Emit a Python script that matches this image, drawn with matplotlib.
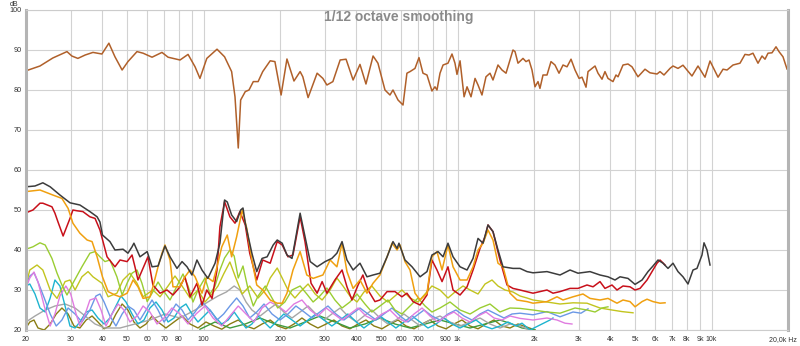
import matplotlib
matplotlib.use('Agg')
import matplotlib.pyplot as plt
import matplotlib.transforms as mtransforms
import numpy as np
from matplotlib.ticker import NullLocator

plt.rcParams['font.family'] = ['Liberation Sans', 'DejaVu Sans']

# (frequency in Hz, level in dB)
total_response = [
    (20, 84.8), (22.7, 86.0), (25.5, 88.0), (29.0, 89.6), (30.3, 88.5), (32.0, 87.9), (34.2, 88.75),
    (36.7, 89.4), (39.8, 89.0), (42.4, 91.7), (44.8, 88.3), (47.8, 85.0), (50.4, 87.1), (54.7, 89.6),
    (57.8, 89.2), (62.7, 88.2), (68.6, 89.4), (72.5, 88.2), (80.8, 87.5), (86.9, 88.9), (92.6, 85.8),
    (96.8, 82.9), (103, 87.9), (113, 90.2), (121, 88.3), (129, 84.6), (133, 78.3), (137, 65.5),
    (140, 77.5), (146, 79.6), (151, 80.0), (157, 82.1), (164, 82.1), (171, 84.6), (183, 87.3),
    (191, 87.1), (202, 78.75), (213, 87.75), (227, 82.25), (240, 84.6), (246, 83.3), (258, 78.1),
    (280, 84.2), (295, 82.9), (306, 81.25), (323, 82.1), (345, 87.5), (364, 87.7), (388, 82.5),
    (413, 86.4), (436, 81.5), (465, 88.5), (486, 86.7), (518, 80.0), (542, 78.75), (557, 80.0),
    (583, 77.5), (610, 76.25), (632, 84.2), (650, 84.6), (680, 85.4), (705, 88.1), (731, 84.2),
    (758, 83.75), (793, 79.75), (815, 80.8), (830, 80.0), (853, 84.2), (877, 86.25), (917, 86.7),
    (951, 89.0), (977, 86.7), (995, 83.9), (1023, 87.3), (1061, 78.3), (1090, 80.8), (1130, 78.3),
    (1172, 82.9), (1204, 81.25), (1248, 78.75), (1294, 83.3), (1342, 84.2), (1379, 82.5),
    (1443, 86.25), (1496, 85.0), (1552, 84.2), (1653, 90.0), (1684, 89.6), (1730, 86.7),
    (1810, 87.9), (1860, 87.1), (1911, 87.5), (1964, 85.0), (2018, 80.8), (2074, 82.1),
    (2111, 80.4), (2170, 83.75), (2250, 83.75), (2333, 87.1), (2419, 86.25), (2509, 84.2),
    (2602, 86.25), (2698, 85.8), (2798, 87.7), (2901, 85.0), (3009, 82.9), (3091, 83.2),
    (3205, 80.7), (3264, 84.6), (3385, 85.4), (3478, 86.0), (3573, 84.2), (3705, 82.7),
    (3806, 84.6), (3911, 82.9), (4093, 82.1), (4205, 83.75), (4284, 83.3), (4482, 86.25),
    (4689, 86.5), (4862, 85.8), (5133, 83.3), (5470, 85.2), (5724, 84.3), (6101, 84.0),
    (6268, 84.6), (6498, 83.75), (6862, 85.4), (7052, 86.0), (7378, 85.4), (7720, 86.2),
    (8375, 83.5), (8845, 86.0), (9424, 83.2), (9862, 87.25), (10606, 83.2), (11098, 85.2),
    (11508, 85.0), (12152, 86.25), (12942, 86.7), (13542, 88.9), (14043, 88.75), (14561, 89.2),
    (15238, 86.7), (15802, 88.5), (16237, 87.7), (16686, 89.2), (17300, 89.3), (17940, 90.8),
    (18432, 89.6), (19114, 88.3), (19820, 85.25),
]

sum_response = [
    (20, 55.8), (21.7, 56), (23.3, 56.8), (24.9, 55.8), (27.2, 53.75), (29.8, 51.8), (32.6, 51.25),
    (35.7, 49.6), (38.1, 48.3), (39.1, 47), (40, 43.75), (42.8, 42.1), (44.8, 40), (48.2, 40.2),
    (50.4, 39.2), (52.3, 40.8), (53.2, 41.7), (56.2, 38.3), (60, 39.6), (62.7, 35.8), (66.2, 36),
    (70.5, 41), (73.8, 38.3), (78.6, 35.4), (82.3, 37.1), (86.1, 35.8), (90, 33.75), (94.2, 37.5),
    (98.6, 35), (104, 32.9), (111, 36.7), (116, 41.7), (121, 52.5), (124, 52), (129, 48.75),
    (135, 47.1), (140, 50), (143, 50.5), (146, 46.7), (155, 39.2), (162, 34.6), (170, 37.9),
    (178, 38.3), (188, 41.25), (195, 42.5), (204, 41.7), (213, 38.75), (223, 37.9), (231, 43.3),
    (240, 49.2), (251, 43.3), (263, 37.1), (280, 35.8), (301, 37.1), (320, 37.9), (335, 39.2),
    (351, 42.1), (367, 37.5), (388, 35), (413, 36.7), (440, 33.3), (465, 33.75), (495, 34.2),
    (528, 38.3), (557, 42.1), (578, 40.4), (588, 41.7), (621, 37.5), (662, 35.8), (712, 33.3),
    (758, 34.6), (793, 38.75), (838, 39.6), (877, 38.3), (917, 41.7), (960, 38.3), (1023, 35.8),
    (1090, 35), (1151, 37.9), (1204, 42.9), (1260, 41.7), (1318, 46.25), (1379, 44.6), (1443, 40),
    (1510, 35.8), (1653, 35.4), (1762, 35.4), (1877, 34.6), (1982, 34.3), (2250, 34.6),
    (2532, 33.75), (2772, 35), (2980, 34.2), (3323, 34.6), (3638, 33.75), (3911, 33.3),
    (4168, 32.5), (4362, 33.3), (4689, 32.9), (4998, 31.4), (5326, 32.5), (5622, 34.6),
    (5882, 36), (6156, 37.5), (6440, 36.7), (6740, 35.4), (7052, 36.7), (7378, 34.6), (7720, 33.3),
    (8078, 31.5), (8454, 35), (8764, 35.4), (9172, 38.75), (9340, 41.8), (9598, 40), (9862, 36.25),
]

red_response = [
    (20, 49.3), (21.3, 50), (22.7, 51.7), (23.3, 51.7), (25.3, 50.8), (26, 49.2), (26.7, 47.1),
    (28, 43.5), (29.8, 47.9), (30.6, 50), (31.8, 49.8), (33.5, 49.6), (35.7, 48.3), (37.4, 47.9),
    (39.1, 45), (41.7, 38.3), (44.8, 35.8), (46.9, 37.5), (50, 37.1), (52.3, 38.75), (53.7, 35.8),
    (55.2, 32.5), (60.4, 38.3), (63.2, 31.25), (67.4, 29.2), (71.8, 30), (75.8, 28.75), (80.8, 30.8),
    (84.5, 33.3), (88.5, 28.3), (94.2, 31.7), (98.6, 26.25), (103, 30), (108, 27.9), (113, 35),
    (116, 45.8), (121, 52.1), (127, 48.3), (133, 46.7), (139, 49.6), (146, 46.25), (152, 39.2),
    (162, 32.5), (171, 37.5), (183, 36.7), (195, 42.1), (204, 41.25), (215, 38.3), (225, 38.75),
    (240, 48.3), (251, 42), (265, 31.7), (280, 29.2), (293, 32.1), (306, 29.2), (329, 32.5),
    (351, 35), (367, 30.8), (384, 27.5), (406, 31.25), (424, 33.75), (444, 30), (473, 27.1),
    (495, 27.5), (528, 29.6), (567, 29.6), (604, 28.3), (632, 29.2), (668, 27.1), (712, 26.25),
    (758, 28.75), (793, 37.5), (830, 35), (869, 32.1), (917, 35.8), (960, 30), (1023, 28.75),
    (1090, 30.8), (1151, 35), (1226, 40.4), (1283, 43.3), (1318, 46.25), (1379, 44.6),
    (1469, 37.5), (1566, 31.25), (1653, 30.4), (1762, 30), (1982, 29.2), (2111, 29.6), (2250, 30),
    (2376, 29.2), (2532, 29.6), (2772, 30.4), (2980, 30.4), (3234, 31.25), (3416, 30.8),
    (3638, 32.1), (3806, 30.4), (4056, 31.25), (4244, 30), (4482, 31), (4775, 30.8), (4998, 30),
    (5230, 30.4), (5572, 32.5), (5830, 34.6), (6101, 36.7), (6268, 37.5), (6560, 36.25),
]

orange_response = [
    (20, 54.6), (22.7, 55), (25.5, 53.75), (27.7, 52.9), (29.3, 50.4), (30.6, 46.7), (32.6, 44.2),
    (34.8, 42.5), (36.4, 42.1), (38.1, 38.3), (40, 33.3), (42.1, 29.6), (44.8, 28.75), (46.9, 28.3),
    (50, 29.2), (52.8, 32.5), (55.2, 30.8), (57.8, 27.9), (61.5, 28.3), (63.2, 30.8), (66.2, 35.8),
    (68.6, 39.2), (70.5, 41.25), (73.8, 37.5), (75.8, 30.8), (80.8, 30.8), (84.5, 33.3), (88.5, 35),
    (92.6, 33.3), (98.6, 29.2), (103, 33.3), (109, 32.1), (113, 35.8), (118, 40.8), (124, 43.75),
    (129, 38.3), (135, 43.3), (142, 50), (148, 45.4), (155, 37.5), (162, 31.25), (171, 30),
    (183, 27.5), (195, 26.7), (204, 26.7), (213, 29.2), (225, 35), (240, 39.6), (255, 33.75),
    (270, 32.9), (295, 33.75), (315, 37.5), (335, 35.8), (351, 41.7), (367, 34.6), (388, 30.4),
    (413, 32.5), (440, 29.2), (465, 31.7), (495, 33.75), (528, 38.3), (552, 41.7), (578, 40),
    (594, 41.25), (621, 37.1), (650, 35), (680, 29.2), (712, 27.5), (758, 29.2), (793, 38.3),
    (830, 39.6), (869, 35), (917, 41.25), (960, 35.8), (1023, 32.5), (1090, 32.5), (1151, 35.8),
    (1204, 40), (1260, 41.7), (1318, 45), (1379, 42.5), (1443, 36.7), (1510, 35.8), (1609, 29.2),
    (1715, 27.5), (1877, 27.1), (1982, 26.7), (2250, 27.1), (2464, 28.3), (2602, 27.5),
    (2849, 28.3), (3118, 29), (3323, 27.9), (3638, 27.5), (3911, 27.9), (4244, 26.7), (4482, 27.5),
    (4775, 27.1), (4998, 25.8), (5326, 27.1), (5572, 27.7), (5882, 27.1), (6268, 26.7), (6560, 26.8),
]

lime_response = [
    (20, 40.2), (21.3, 40.8), (22.7, 41.8), (23.8, 41.25), (25.3, 37.9), (26.5, 34.2), (27.7, 31.25),
    (29, 28.75), (30.6, 31.7), (33.2, 35.8), (35.7, 39.2), (37.4, 39.6), (39.1, 38.3), (40.9, 37.1),
    (42.8, 37.5), (45.6, 33.3), (47.8, 28.75), (50, 31.7), (52.3, 34.2), (54.7, 35), (57.2, 31.7),
    (60, 27.1), (62.7, 29.2), (66.2, 32), (69.2, 30), (73.8, 27.5), (78.6, 31), (83, 34), (86.9, 31),
    (90.9, 27), (95.1, 30), (101.3, 33), (106, 29), (111, 31), (116, 35), (121, 38), (127, 40),
    (132, 38.5), (137, 33), (143, 36), (150, 30), (157, 26), (164, 28.5), (175, 31), (186, 28),
    (196, 25.5), (209, 27), (223, 30), (240, 31), (255, 29), (270, 27), (287, 28.5), (306, 30.5),
    (329, 27.5), (351, 25.5), (377, 27), (402, 29), (432, 26.5), (460, 24.5), (495, 26),
    (532, 27.5), (567, 25), (604, 24), (650, 26), (699, 28), (745, 26), (793, 24.5), (853, 25.5),
    (934, 27), (1023, 25), (1120, 24), (1226, 25.5), (1342, 26.5), (1469, 24.5), (1609, 25.5),
    (1762, 25.4), (1982, 25), (2250, 24.5), (2532, 24.2), (2901, 25.5), (3234, 25), (3478, 24.5),
    (3705, 25.5), (3911, 25.8),
]

olive_yellow_response = [
    (20, 31.25), (20.7, 35), (22.1, 36.25), (23.3, 35), (24.9, 30), (26.5, 27.9), (28.5, 32.1),
    (29.8, 32.5), (31.2, 30), (33.2, 33.3), (35.1, 34.6), (36.7, 33.3), (39.8, 31.7), (42.1, 28.3),
    (45.6, 29.2), (48.2, 32.5), (51.3, 34.2), (54.7, 31.7), (57.8, 28.3), (63.2, 30), (67.4, 28.3),
    (72.5, 31), (77.2, 33.5), (82.3, 31), (88.5, 28), (95.1, 30), (101.3, 27), (108, 29), (114, 31),
    (120, 34), (127, 37), (134, 33), (142, 29), (152, 31), (164, 28), (175, 30), (183, 33),
    (195, 35.5), (204, 33), (215, 30), (229, 28), (240, 29.5), (258, 31.5), (275, 29), (293, 27.5),
    (315, 30), (335, 33), (354, 31), (377, 28.5), (402, 27), (428, 29.5), (460, 31), (495, 28.5),
    (532, 27), (567, 28.5), (604, 30), (650, 28), (699, 27), (745, 29), (793, 31), (853, 30),
    (917, 28), (977, 29.5), (1051, 31), (1120, 30), (1204, 29), (1283, 31.5), (1367, 32.5),
    (1443, 31), (1538, 30), (1653, 29.5), (1762, 28.5), (1877, 28), (1982, 27.5), (2250, 27),
    (2532, 26.5), (2849, 26.8), (3234, 26.7), (3638, 25.5), (4056, 25), (4442, 24.6), (4908, 24.3),
]

pink_response = [
    (20, 30.5), (20.7, 33), (21.5, 34.5), (22.3, 32), (23.6, 26), (24.9, 21), (26, 24), (27.2, 28.5),
    (28.7, 31), (30, 29), (31.5, 24), (32.6, 21), (34.2, 24), (35.7, 27.5), (37.7, 28), (39.5, 25),
    (41.3, 21), (43.6, 24), (46.1, 26.5), (48.6, 25), (51.3, 22), (54.7, 23.5), (57.8, 26),
    (61.5, 24.5), (65.6, 21.5), (69.9, 23), (75.1, 25.5), (80.8, 24), (86.9, 21.5), (93.4, 24),
    (101.3, 26), (109, 23), (118, 21), (127, 23.5), (137, 26), (147, 24), (158, 22), (170, 25.5),
    (183, 27), (196, 26), (211, 24.5), (227, 26.5), (244, 27.5), (263, 25), (282, 23.5),
    (304, 25.5), (326, 24), (351, 22.5), (377, 24), (406, 25.5), (436, 23.5), (469, 22.5),
    (504, 24), (542, 25), (583, 23), (627, 22), (674, 24), (725, 25.5), (779, 23.5), (838, 22),
    (901, 23.5), (968, 24.5), (1041, 23), (1120, 22), (1204, 23.5), (1294, 24.5), (1392, 23),
    (1496, 22.5), (1609, 23.5), (1762, 22.9), (1982, 22.5), (2250, 23), (2464, 22.5),
    (2649, 21.7), (2822, 21.5),
]

blue_response = [
    (20, 31.5), (20.7, 33.5), (21.5, 34.3), (22.3, 32), (23.6, 28), (24.9, 24), (26.3, 21),
    (27.7, 22.5), (29.3, 25.5), (31.2, 24), (33.2, 22), (35.7, 25), (37.7, 28.5), (39.1, 29),
    (40.6, 27), (42.8, 23.5), (45.2, 21), (47.8, 24), (50.4, 26), (53.2, 25), (56.2, 22.5),
    (59.4, 25), (62.7, 27.5), (66.2, 25), (69.9, 22), (73.8, 24), (77.9, 26.5), (82.3, 25),
    (86.9, 22.5), (92.6, 24.5), (98.6, 27), (106, 25), (113, 22.5), (120, 24), (127, 26), (135, 28),
    (143, 26), (152, 23), (162, 24.5), (173, 26.5), (186, 24), (200, 22.5), (215, 24), (231, 26),
    (249, 24.5), (267, 23), (287, 24.5), (309, 26), (332, 24), (357, 22.5), (384, 24), (413, 25.5),
    (444, 24), (478, 22.5), (513, 24), (552, 25.5), (594, 23.5), (638, 22), (686, 23.5), (738, 25),
    (793, 23.5), (853, 22.5), (917, 24), (986, 25), (1061, 23.5), (1140, 22.5), (1226, 24),
    (1318, 25), (1417, 24), (1524, 23), (1638, 24), (1762, 24.2), (1982, 23.8), (2250, 24.6),
    (2532, 23.3), (2849, 24.5), (3062, 24.2), (3264, 25.3),
]

cyan_response = [
    (20, 31), (20.7, 31.5), (21.7, 29), (22.7, 25.5), (23.8, 24.5), (24.9, 28), (26, 32.5),
    (27.2, 31), (28.5, 26), (29.8, 21), (31.2, 20.5), (32.6, 22), (34.5, 24.5), (36.4, 25),
    (38.4, 23), (40.6, 21.5), (42.8, 23), (45.2, 26), (47.3, 28.5), (49.5, 27), (52.3, 24),
    (55.2, 21.5), (58.3, 22.5), (61.5, 25.5), (65, 27), (68.6, 25), (72.5, 22), (76.5, 23),
    (80.8, 25.5), (85.3, 26.5), (90, 24), (95.1, 22), (100.4, 23.5), (106, 25), (112, 23),
    (118, 21.5), (125, 22.5), (132, 24.5), (139, 22.5), (147, 20.5), (155, 21.5), (164, 23.5),
    (173, 22), (183, 20.5), (193, 22), (207, 24), (223, 22.5), (240, 21), (258, 22.5), (277, 24),
    (298, 22.5), (320, 21), (345, 22.5), (370, 24), (400, 22), (428, 20.5), (460, 22), (495, 23.5),
    (532, 22), (572, 20.5), (615, 22), (662, 23.5), (712, 22), (765, 20.5), (823, 21.5), (885, 23),
    (951, 21.5), (1023, 20.5), (1100, 21.5), (1182, 22.5), (1271, 21), (1367, 20.3), (1469, 21),
    (1580, 22), (1699, 21), (1794, 21.7), (1929, 20), (2111, 21.25), (2312, 22.5), (2376, 23),
]

grey_response = [
    (20, 22), (21.7, 23.5), (23.8, 25), (26, 26), (28.5, 26.5), (31.2, 25.5), (34.2, 23.5),
    (37.4, 21.5), (40.9, 20.5), (46.9, 20.5), (53.7, 21.5), (61.5, 22.5), (70.5, 24), (80.8, 23),
    (92.6, 25), (104, 27), (114, 28.5), (123, 29.5), (132, 31), (139, 30), (147, 27), (155, 25),
    (167, 23.5), (179, 25), (193, 26.5), (207, 24.5), (223, 23), (240, 24.5), (258, 26), (277, 24),
    (298, 22.5), (320, 24), (345, 25.5), (370, 23.5), (400, 22), (428, 23.5), (460, 25), (495, 23),
    (532, 21.5), (572, 22.5), (615, 24), (662, 22.5), (712, 21), (779, 22.5), (853, 23.5),
    (934, 22), (1023, 21), (1120, 22), (1226, 23), (1342, 21.5), (1469, 20.5), (1609, 21.5),
    (1762, 21), (1929, 20),
]

dark_olive_response = [
    (20, 20.5), (20.7, 22), (21.5, 22.5), (22.3, 20.5), (23.6, 20), (24.9, 21.5), (26.3, 24),
    (27.7, 25.5), (29.3, 24), (30.9, 21), (32.6, 20.5), (34.5, 22.5), (36.4, 23.5), (38.4, 22),
    (40.6, 20.3), (42.8, 21), (45.2, 24), (47.8, 26.5), (50.4, 25), (53.2, 22), (56.2, 20.5),
    (59.4, 21.5), (62.7, 23.5), (66.2, 22), (71.1, 20.5), (76.5, 22), (82.3, 23.5), (88.5, 21.5),
    (95.1, 20.5), (102.2, 22), (110, 21), (118, 20.2), (127, 21.5), (137, 22.5), (147, 21),
    (158, 20.3), (170, 21.5), (183, 22.5), (196, 21), (211, 20.3), (227, 21.5), (244, 23),
    (263, 21.5), (282, 20.5), (304, 21.5), (326, 22.5), (351, 21), (377, 20.3), (406, 21.5),
    (436, 22.5), (469, 21), (504, 20.3), (542, 21.5), (583, 22.5), (627, 21), (674, 20.3),
    (725, 21.5), (779, 22.5), (838, 21), (901, 20.3), (968, 21.5), (1041, 22.5), (1120, 21),
    (1204, 20.3), (1294, 21.5), (1392, 22.5), (1496, 21), (1609, 20.5), (1730, 21.5), (1860, 20.8),
    (2018, 20),
]

green_response = [
    (96.8, 20.2), (111, 22), (127, 20.5), (146, 21.5), (167, 23), (191, 21.5), (219, 20.5),
    (251, 22), (287, 23.5), (329, 22), (377, 20.5), (432, 21.5), (495, 23), (567, 21.5), (650, 20.5),
    (745, 21.5), (853, 22.5), (977, 21.5), (1120, 20.5), (1283, 21.5), (1469, 22.5), (1638, 21.5),
    (1794, 20.5), (2018, 20),
]

x_grid = [20, 30, 40, 50, 60, 70, 80, 90, 100, 200, 300, 400, 500, 600, 700, 800, 900,
          1000, 2000, 3000, 4000, 5000, 6000, 7000, 8000, 9000, 10000, 20000]
x_labels = ['20', '30', '40', '50', '60', '70', '80', '', '100', '200', '300', '400', '500', '600',
            '700', '', '900', '1k', '2k', '3k', '4k', '5k', '6k', '7k', '8k', '9k', '10k', '20,0k Hz']
y_grid = [20, 30, 40, 50, 60, 70, 80, 90, 100]

# drawing order: quiet components first, then the main traces on top
curves = [
    (dark_olive_response, '#8a7d14', 1.0),
    (green_response, '#3f9a3c', 1.0),
    (grey_response, '#a6a6a6', 1.0),
    (cyan_response, '#1eb4cf', 1.0),
    (blue_response, '#6a98e6', 1.0),
    (pink_response, '#e07ce0', 1.0),
    (olive_yellow_response, '#c2c41e', 1.0),
    (lime_response, '#9acd32', 1.0),
    (red_response, '#c8101a', 1.1),
    (orange_response, '#f0a010', 1.1),
    (sum_response, '#3c3c3c', 1.1),
    (total_response, '#b0602a', 1.1),
]

fig = plt.figure(figsize=(8, 3.46), dpi=100)
ax = fig.add_axes([26 / 800, 16 / 346, 762 / 800, 320 / 346])

for data, color, lw in curves:
    arr = np.array(data)
    ax.plot(arr[:, 0], arr[:, 1], color=color, lw=lw, solid_joinstyle='round')

ax.set_xscale('log')
ax.set_xlim(20, 20000)
ax.set_ylim(20, 100)
ax.set_xticks(x_grid)
ax.set_xticklabels(x_labels)
ax.xaxis.set_minor_locator(NullLocator())
ax.set_yticks(y_grid)
ax.set_yticklabels([str(v) for v in y_grid])
ax.tick_params(axis='x', length=0, pad=4, labelsize=5, labelcolor='#333333')
ax.tick_params(axis='y', length=0, pad=3, labelsize=5.2, labelcolor='#333333')
ax.grid(True, which='major', color='#d2d2d2', lw=0.8)
ax.set_axisbelow(True)

# last x label sits a bit to the left so it stays inside the image
last = ax.get_xticklabels()[-1]
last.set_transform(last.get_transform() + mtransforms.ScaledTranslation(-5 / 100, 0, fig.dpi_scale_trans))

for side in ['left', 'right']:
    ax.spines[side].set_color('#b4b4b4')
    ax.spines[side].set_linewidth(2.2)
for side in ['top', 'bottom']:
    ax.spines[side].set_color('#cccccc')
    ax.spines[side].set_linewidth(0.8)

ax.text(0.4895, 0.978, '1/12 octave smoothing', transform=ax.transAxes, ha='center', va='center',
        fontsize=10, fontweight='bold', color='#8a8a8a')
fig.text(14 / 800, 1 - 5 / 346, 'dB', ha='center', va='center', fontsize=5, color='#333333')

fig.savefig('out.png', dpi=100, facecolor='white')
